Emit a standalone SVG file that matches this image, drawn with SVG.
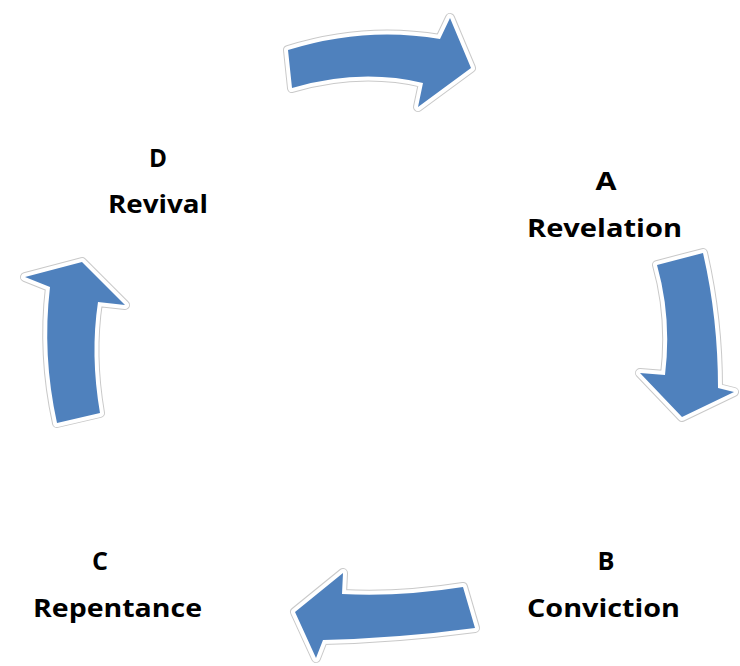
<svg xmlns="http://www.w3.org/2000/svg" xmlns:xlink="http://www.w3.org/1999/xlink" width="740" height="666" viewBox="0 0 740 666">
<style>
.edge{fill:none;stroke:#c9c9c9;stroke-width:10;stroke-linejoin:round}
.halo{fill:#ffffff;stroke:#ffffff;stroke-width:8;stroke-linejoin:round}
.body{fill:#4f81bd;stroke:none}
.lbl{font-family:"Open Sans","Liberation Sans",sans-serif;font-weight:bold;font-size:25px;fill:#000000;text-anchor:middle}
</style>
<defs>
<path id="pTop" d="M288,50 Q365,26 440,39 L450,18 L471,68 L418,107 L423,83 Q360,68 292,88 Z"/>
<path id="pRight" d="M657,265 L703,253 Q718,318 718,388 L734,392 L682,417 L640,373 L665,375 Q672,318 657,265 Z"/>
<path id="pBottom" d="M463,587 Q400,597 342,594 L343,573 L295,612 L316,658 L323,640 Q400,638 475,628 Z"/>
<path id="pLeft" d="M57,423 Q42,355 50,287 L25,277 L82,262 L125,305 L98,302 Q90,355 100,413 Z"/>
</defs>
<rect width="740" height="666" fill="#ffffff"/>
<g id="connectors">
<g id="arrow-d-a"><use xlink:href="#pTop" class="edge"/><use xlink:href="#pTop" class="halo"/><use xlink:href="#pTop" class="body"/></g>
<g id="arrow-a-b"><use xlink:href="#pRight" class="edge"/><use xlink:href="#pRight" class="halo"/><use xlink:href="#pRight" class="body"/></g>
<g id="arrow-b-c"><use xlink:href="#pBottom" class="edge"/><use xlink:href="#pBottom" class="halo"/><use xlink:href="#pBottom" class="body"/></g>
<g id="arrow-c-d"><use xlink:href="#pLeft" class="edge"/><use xlink:href="#pLeft" class="halo"/><use xlink:href="#pLeft" class="body"/></g>
</g>
<g id="node-d">
<text class="lbl" x="158" y="167" textLength="18" lengthAdjust="spacingAndGlyphs">D</text>
<text class="lbl" x="158" y="213" textLength="100" lengthAdjust="spacingAndGlyphs">Revival</text>
</g>
<g id="node-a">
<text class="lbl" x="606" y="190" textLength="21" lengthAdjust="spacingAndGlyphs">A</text>
<text class="lbl" x="604.5" y="237" textLength="155" lengthAdjust="spacingAndGlyphs">Revelation</text>
</g>
<g id="node-b">
<text class="lbl" x="606" y="570" textLength="17" lengthAdjust="spacingAndGlyphs">B</text>
<text class="lbl" x="603.5" y="617" textLength="153" lengthAdjust="spacingAndGlyphs">Conviction</text>
</g>
<g id="node-c">
<text class="lbl" x="100" y="570" textLength="16" lengthAdjust="spacingAndGlyphs">C</text>
<text class="lbl" x="117.5" y="617" textLength="169" lengthAdjust="spacingAndGlyphs">Repentance</text>
</g>
</svg>
